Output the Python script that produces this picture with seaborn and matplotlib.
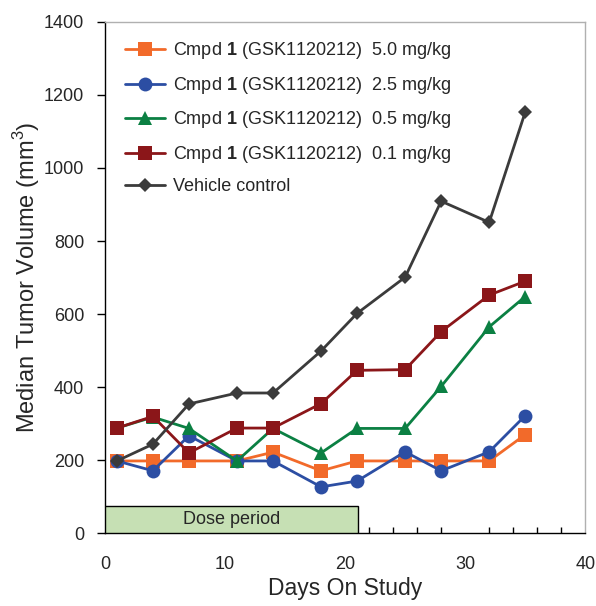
import matplotlib
matplotlib.use("Agg")
import matplotlib.pyplot as plt
from matplotlib.patches import Rectangle
from matplotlib.ticker import MultipleLocator
import seaborn as sns
import pandas as pd

sns.set_theme(style="white")
plt.rcParams["font.family"] = ["Liberation Sans", "DejaVu Sans"]
plt.rcParams["mathtext.fontset"] = "custom"
plt.rcParams["mathtext.rm"] = "Liberation Sans"
plt.rcParams["mathtext.bf"] = "Liberation Sans:bold"

days = [1, 4, 7, 11, 14, 18, 21, 25, 28, 32, 35]

dose_5_0 = [198, 198, 198, 198, 222, 171, 198, 198, 198, 198, 270]
dose_2_5 = [198, 171, 267, 198, 198, 127, 143, 223, 171, 223, 322]
dose_0_5 = [288, 318, 287, 198, 287, 220, 287, 287, 402, 565, 648]
dose_0_1 = [288, 320, 220, 288, 288, 355, 446, 448, 552, 652, 690]
vehicle = [198, 244, 354, 384, 384, 499, 602, 701, 909, 851, 1153]

labels = [
    r"Cmpd $\mathbf{1}$ (GSK1120212)  5.0 mg/kg",
    r"Cmpd $\mathbf{1}$ (GSK1120212)  2.5 mg/kg",
    r"Cmpd $\mathbf{1}$ (GSK1120212)  0.5 mg/kg",
    r"Cmpd $\mathbf{1}$ (GSK1120212)  0.1 mg/kg",
    "Vehicle control",
]
series = [dose_5_0, dose_2_5, dose_0_5, dose_0_1, vehicle]
colors = ["#f26a2a", "#2c4ea3", "#0b8043", "#8b1619", "#3b3b3b"]
markers = ["s", "o", "^", "s", "D"]
msizes = [9.5, 10, 10.5, 9.5, 7.5]

dose_end = 21.1
dose_height = 75

fig, ax = plt.subplots(figsize=(5.96, 6.06), dpi=100)
fig.subplots_adjust(left=0.176, right=0.982, bottom=0.12, top=0.964)

for vals, lab, c, m, ms in zip(series, labels, colors, markers, msizes):
    df = pd.DataFrame({"day": days, "vol": vals})
    sns.lineplot(data=df, x="day", y="vol", ax=ax, color=c, marker=m,
                 markersize=ms, markeredgewidth=0, linewidth=2.0, label=lab)

ax.add_patch(Rectangle((0, 0), dose_end, dose_height, facecolor="#c6e0b4",
                       edgecolor="black", linewidth=1.0, zorder=3))
ax.text(dose_end / 2, dose_height / 2, "Dose period", ha="center", va="center",
        fontsize=13, zorder=4)

ax.set_xlim(0, 40)
ax.set_ylim(0, 1400)
ax.xaxis.set_major_locator(MultipleLocator(10))
ax.xaxis.set_minor_locator(MultipleLocator(2))
ax.yaxis.set_major_locator(MultipleLocator(200))
ax.tick_params(axis="x", which="major", direction="inout", length=8, width=1,
               labelsize=13, pad=12, color="black")
ax.tick_params(axis="x", which="minor", direction="in", length=4, width=1,
               bottom=True, color="black")
ax.tick_params(axis="y", which="major", direction="out", length=6, width=1,
               labelsize=13, pad=9, left=True, color="black")

for side in ["left", "bottom"]:
    ax.spines[side].set_color("black")
    ax.spines[side].set_linewidth(1.0)
for side in ["top", "right"]:
    ax.spines[side].set_color("#b0b0b0")
    ax.spines[side].set_linewidth(1.0)

ax.set_xlabel("Days On Study", fontsize=16.5, labelpad=3)
ax.set_ylabel("Median Tumor Volume (mm$^3$)", fontsize=17, labelpad=1)

ax.legend(loc="upper left", frameon=False, fontsize=13, handlelength=2.2,
          handletextpad=0.45, labelspacing=0.75, bbox_to_anchor=(0.02, 0.985),
          borderaxespad=0.2)

fig.savefig("out.png", dpi=100)
